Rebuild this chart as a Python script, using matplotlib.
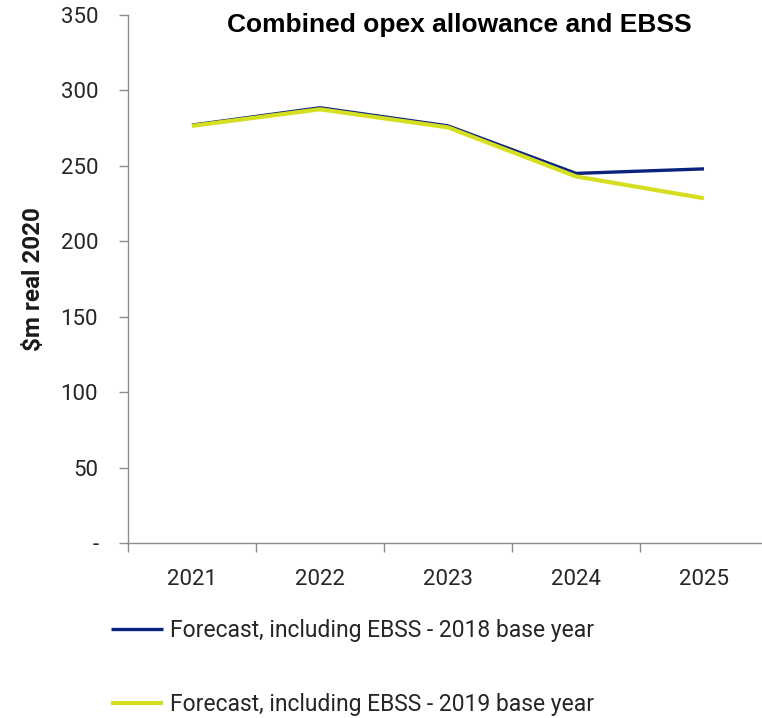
import matplotlib
matplotlib.use("Agg")

import matplotlib.pyplot as plt
from matplotlib.ticker import FuncFormatter

years = ["2021", "2022", "2023", "2024", "2025"]
base_2018 = [277, 288.5, 276.5, 245, 248]
base_2019 = [276.5, 287.5, 275.5, 243, 228.5]
series_names = ["Forecast, including EBSS - 2018 base year",
                "Forecast, including EBSS - 2019 base year"]
y_ticks = [0, 50, 100, 150, 200, 250, 300, 350]

plt.rcParams['font.family'] = ['Roboto', 'DejaVu Sans']

fig = plt.figure(figsize=(7.62, 7.18), dpi=100)
ax = fig.add_axes([128 / 762, 175 / 718, 640 / 762, 528 / 718])

x = range(len(years))
ax.plot(x, base_2018, color='#0c237e', lw=2.4, label=series_names[0], solid_capstyle='butt')
ax.plot(x, base_2019, color='#d5df1f', lw=3.0, label=series_names[1], solid_capstyle='butt')

ax.set_xlim(-0.5, len(years) - 0.5)
ax.set_ylim(0, 350)

ax.set_yticks(y_ticks)
ax.yaxis.set_major_formatter(FuncFormatter(lambda v, p: '-' if v == 0 else f'{int(v)}'))
ax.tick_params(axis='y', direction='out', length=6.5, width=1, color='#8c8c8c',
               labelsize=16, labelcolor='#262626', pad=15)

ax.set_xticks(list(x))
ax.set_xticklabels(years)
ax.set_xticks([i - 0.5 for i in range(len(years) + 1)], minor=True)
ax.tick_params(axis='x', which='major', length=0, labelsize=16, labelcolor='#262626', pad=19)
ax.tick_params(axis='x', which='minor', direction='out', length=6.5, width=1, color='#8c8c8c')

for s in ['top', 'right']:
    ax.spines[s].set_visible(False)
for s in ['left', 'bottom']:
    ax.spines[s].set_color('#8c8c8c')
    ax.spines[s].set_linewidth(1)

ax.set_ylabel('$m real 2020', fontsize=17.5, fontweight='bold', color='#1a1a1a')
ax.yaxis.set_label_coords(-0.13, 0.5)

fig.text(459 / 762, 1 - 32 / 718, 'Combined opex allowance and EBSS',
         ha='center', va='baseline', fontsize=19, fontweight='bold',
         family='Liberation Sans', color='black')

fig.legend(loc='upper left', bbox_to_anchor=(102 / 762, 1 - 610 / 718),
           frameon=False, fontsize=16.5, handlelength=2.27, handletextpad=0.3,
           labelspacing=2.2, borderaxespad=0, labelcolor='#262626')

fig.savefig('out.png', dpi=100)
